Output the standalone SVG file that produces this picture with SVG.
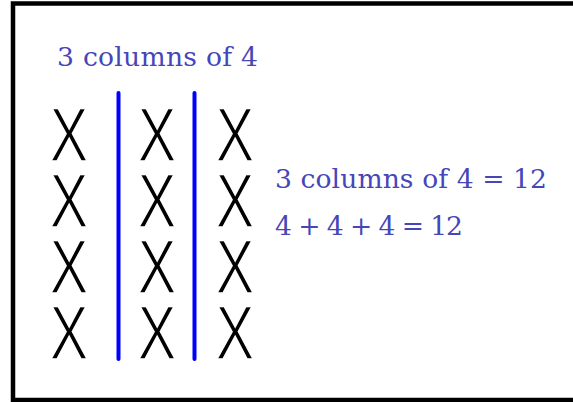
<svg xmlns="http://www.w3.org/2000/svg" width="573" height="402" viewBox="0 0 573 402">
<style>
.lbl{font-family:"DejaVu Serif","Liberation Serif",serif;font-size:26.6px;fill:#4646b8}
.x{font-family:"Liberation Sans",Arial,sans-serif;font-size:76px;fill:#000;stroke:#fff;stroke-width:1.6px;text-anchor:middle}
.div{stroke:#0000ff;stroke-width:4;stroke-linecap:round}
</style>
<rect x="0" y="0" width="573" height="402" fill="#fff"/>
<rect x="13" y="3.5" width="600" height="396.5" fill="none" stroke="#000" stroke-width="4.5"/>
<text class="lbl" x="57" y="66" textLength="201">3 columns of 4</text>
<g id="col1">
<text class="x" transform="translate(69,161) scale(0.76,1)">X</text>
<text class="x" transform="translate(69,227) scale(0.76,1)">X</text>
<text class="x" transform="translate(69,293) scale(0.76,1)">X</text>
<text class="x" transform="translate(69,359) scale(0.76,1)">X</text>
</g>
<g id="col2">
<text class="x" transform="translate(157,161) scale(0.76,1)">X</text>
<text class="x" transform="translate(157,227) scale(0.76,1)">X</text>
<text class="x" transform="translate(157,293) scale(0.76,1)">X</text>
<text class="x" transform="translate(157,359) scale(0.76,1)">X</text>
</g>
<g id="col3">
<text class="x" transform="translate(235,161) scale(0.76,1)">X</text>
<text class="x" transform="translate(235,227) scale(0.76,1)">X</text>
<text class="x" transform="translate(235,293) scale(0.76,1)">X</text>
<text class="x" transform="translate(235,359) scale(0.76,1)">X</text>
</g>
<g id="dividers">
<line class="div" x1="118.5" y1="93" x2="118.5" y2="359"/>
<line class="div" x1="194.5" y1="93" x2="194.5" y2="359"/>
</g>
<g id="equations">
<text class="lbl" x="275" y="188" textLength="272">3 columns of 4 = 12</text>
<text class="lbl" x="275" y="235" textLength="188">4 + 4 + 4 = 12</text>
</g>
</svg>
